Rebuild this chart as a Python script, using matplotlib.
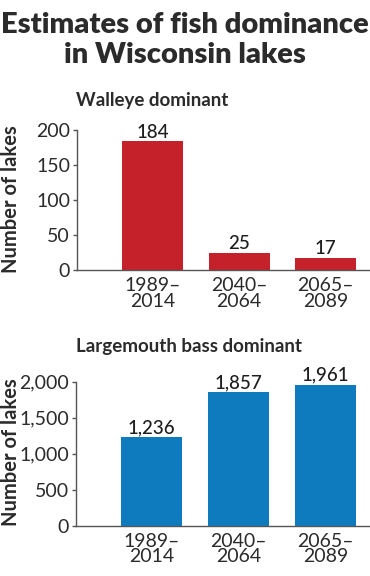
import matplotlib
matplotlib.use("Agg")
import matplotlib.pyplot as plt
from matplotlib.ticker import FuncFormatter

periods = ["1989–\n2014", "2040–\n2064", "2065–\n2089"]
walleye = [184, 25, 17]
bass = [1236, 1857, 1961]
walleye_ticks = [0, 50, 100, 150, 200]
bass_ticks = [0, 500, 1000, 1500, 2000]

RED = "#C4212B"
BLUE = "#0F7BBF"
TEXT = "#2b2b2b"
AXIS = "#555555"

plt.rcParams["font.family"] = ["Lato", "DejaVu Sans"]

W, H = 370, 576
fig = plt.figure(figsize=(W / 100, H / 100), dpi=100)


def px_axes(left, right, top, bottom):
    return fig.add_axes([left / W, 1 - bottom / H, (right - left) / W, (bottom - top) / H])


def draw_panel(ax, values, color, ticks, fmt):
    xs = [1, 2, 3]
    ax.bar(xs, values, width=0.705, color=color)
    ax.set_xlim(0.13, 3.51)
    ax.set_ylim(ticks[0], ticks[-1])
    ax.set_yticks(ticks)
    ax.yaxis.set_major_formatter(FuncFormatter(lambda v, p: fmt(v)))
    ax.set_xticks(xs)
    ax.set_xticklabels(periods, fontsize=14, color=TEXT, linespacing=0.9)
    ax.tick_params(axis="x", length=0, pad=5)
    ax.tick_params(axis="y", length=3, width=1, color=AXIS, labelsize=14,
                   labelcolor=TEXT, pad=2)
    for s in ("top", "right"):
        ax.spines[s].set_visible(False)
    for s in ("left", "bottom"):
        ax.spines[s].set_color(AXIS)
        ax.spines[s].set_linewidth(1)
    for x, v in zip(xs, values):
        ax.annotate(fmt(v), (x, v), xytext=(0, 0.5), textcoords="offset points",
                    ha="center", va="bottom", fontsize=13.5, fontweight="medium",
                    color="#1e1e1e", annotation_clip=False)


fig.text(0.5, 1 - 33 / H, "Estimates of fish dominance", ha="center",
         va="baseline", fontsize=21, fontweight="heavy", color=TEXT)
fig.text(0.5, 1 - 63 / H, "in Wisconsin lakes", ha="center",
         va="baseline", fontsize=21, fontweight="heavy", color=TEXT)

ax1 = px_axes(77, 370, 130, 270)
draw_panel(ax1, walleye, RED, walleye_ticks, lambda v: f"{int(v)}")
fig.text(76 / W, 1 - 106 / H, "Walleye dominant", ha="left", va="baseline",
         fontsize=13.5, fontweight="bold", color=TEXT)
fig.text(11 / W, 1 - 199 / H, "Number of lakes", rotation=90, ha="center",
         va="center", fontsize=14.5, fontweight="bold", color=TEXT)

ax2 = px_axes(76, 370, 381.7, 525.7)
draw_panel(ax2, bass, BLUE, bass_ticks, lambda v: f"{int(v):,}")
fig.text(76 / W, 1 - 352 / H, "Largemouth bass dominant", ha="left",
         va="baseline", fontsize=13.5, fontweight="bold", color=TEXT)
fig.text(11 / W, 1 - 452 / H, "Number of lakes", rotation=90, ha="center",
         va="center", fontsize=14.5, fontweight="bold", color=TEXT)

fig.savefig("out.png", dpi=100)
